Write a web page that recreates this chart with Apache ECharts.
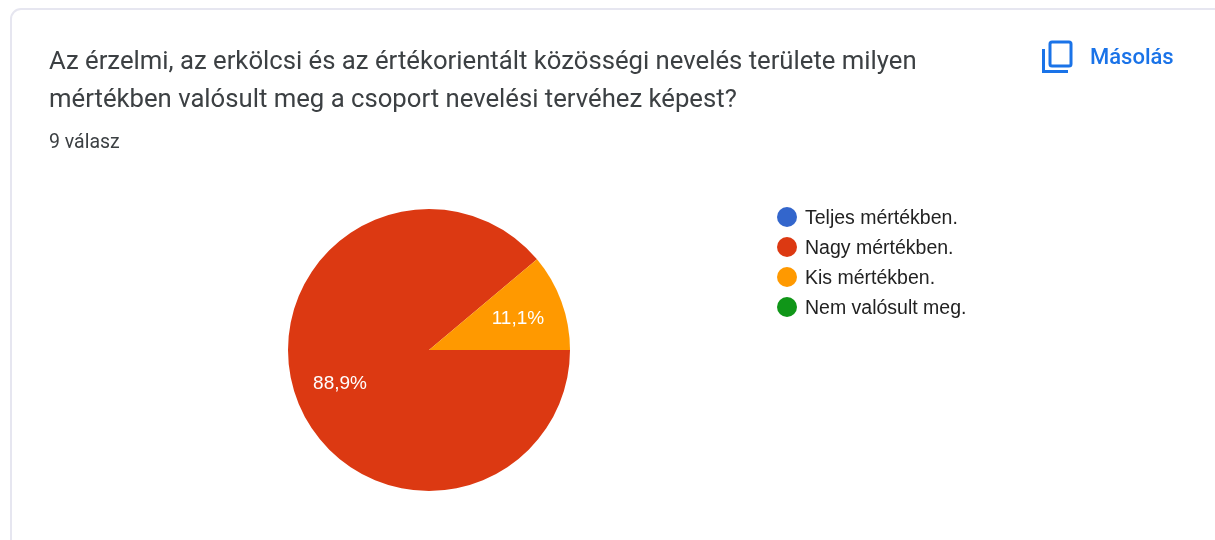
<!DOCTYPE html>
<html><head><meta charset="utf-8">
<style>html,body{margin:0;padding:0;background:#fff}#c{width:1215px;height:540px}</style>
<script src="https://cdn.jsdelivr.net/npm/echarts@6/dist/echarts.min.js"></script>
</head><body><div id="c"></div>
<script>
const titleText = 'Az érzelmi, az erkölcsi és az értékorientált közösségi nevelés területe milyen\nmértékben valósult meg a csoport nevelési tervéhez képest?';
const responsesText = '9 válasz';
const copyText = 'Másolás';
const categories = ['Teljes mértékben.', 'Nagy mértékben.', 'Kis mértékben.', 'Nem valósult meg.'];
const counts = [0, 8, 1, 0];
const colors = ['#3366cc', '#dc3912', '#ff9900', '#109618'];
const total = counts.reduce((a, b) => a + b, 0);
const chart = echarts.init(document.getElementById('c'), null, {renderer: 'canvas'});
const cx = 429, cy = 350, R = 141;
const pieData = categories.map((n, i) => ({name: n, value: counts[i]}));
chart.setOption({
  animation: false,
  backgroundColor: '#fff',
  color: colors,
  title: {
    text: titleText, left: 44, top: 39,
    textStyle: {fontFamily: 'Roboto', fontSize: 25.7, fontWeight: 400, color: '#3c4043', lineHeight: 38},
    subtext: responsesText, itemGap: 13,
    subtextStyle: {fontFamily: 'Roboto', fontSize: 19.5, color: '#3c4043', lineHeight: 20}
  },
  legend: {
    orient: 'vertical', left: 772, top: 200, icon: 'circle',
    itemWidth: 20, itemHeight: 20, itemGap: 6,
    selectedMode: false, data: categories,
    formatter: n => '{a|' + n + '}',
    textStyle: {
      fontFamily: 'Liberation Sans', fontSize: 19.5, color: '#222222', padding: [0, 0, 0, 3],
      rich: {a: {fontFamily: 'Liberation Sans', fontSize: 19.5, color: '#222222', lineHeight: 20, padding: [4, 0, 0, 0]}}
    }
  },
  series: [{
    type: 'pie', center: [cx, cy], radius: [0, R], startAngle: 0, clockwise: true,
    stillShowZeroSum: false, silent: true, data: pieData,
    itemStyle: {borderWidth: 0}, label: {show: false}, labelLine: {show: false}
  }, {
    type: 'pie', center: [cx, cy + 1.5], radius: [0, R * 1.3], startAngle: 0, clockwise: true,
    stillShowZeroSum: false, silent: true, data: pieData, z: 3,
    itemStyle: {color: 'rgba(0,0,0,0)', borderWidth: 0},
    label: {
      show: true, position: 'inside', color: '#fff',
      fontFamily: 'Liberation Sans', fontSize: 19,
      formatter: p => p.value ? (p.value / total * 100).toFixed(1).replace('.', ',') + '%' : ''
    },
    labelLine: {show: false}
  }],
  graphic: [
    {type: 'rect', z: -1, shape: {x: 11, y: 9, width: 1214, height: 560, r: 10},
     style: {fill: '#fff', stroke: '#e6e6f0', lineWidth: 2}},
    {type: 'text', x: 1090, y: 47, style: {text: copyText, fill: '#1a73e8',
     font: '500 22px Roboto'}},
    {type: 'rect', shape: {x: 1050, y: 42, width: 21, height: 24, r: 2},
     style: {fill: 'none', stroke: '#1a73e8', lineWidth: 3}},
    {type: 'polyline', shape: {points: [[1043.5, 49], [1043.5, 71.5], [1068, 71.5]]},
     style: {fill: 'none', stroke: '#1a73e8', lineWidth: 3}}
  ]
});
</script></body></html>
